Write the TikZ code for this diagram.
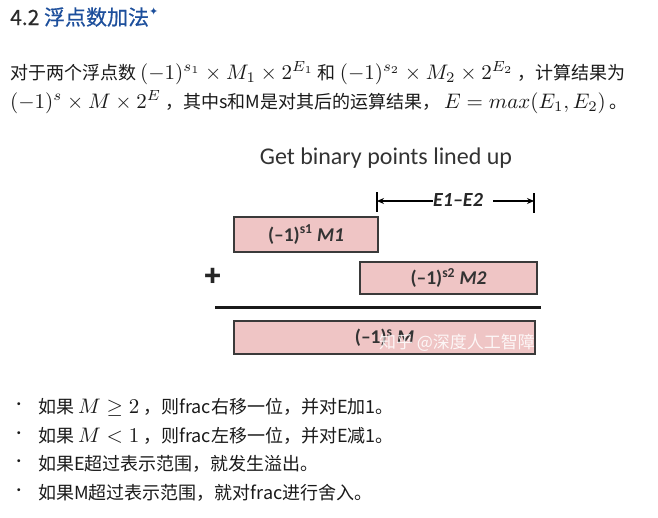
\RequirePackage{fix-cm}
\documentclass[tikz,border=0pt]{standalone}
\usepackage[no-math]{fontspec}
\usepackage{graphicx}
\setmainfont{Noto Sans CJK SC}
\newfontfamily\figfont{Carlito}
\newfontfamily\symfont{DejaVu Sans}
\usetikzlibrary{arrows.meta}
\definecolor{bodytext}{HTML}{1A1A1A}
\definecolor{titleblue}{HTML}{1D4F9C}
\definecolor{titlegray}{HTML}{2B2B2B}
\definecolor{pinkfill}{HTML}{EFC5C5}
\definecolor{boxline}{HTML}{3A3A3A}
\newcommand\mth[1]{\scalebox{2.1}{\fontsize{10pt}{12pt}\selectfont$#1$}}
\tikzset{
  bodyline/.style={anchor=base west, inner sep=0pt, text=bodytext, font=\fontsize{18pt}{21pt}\selectfont},
  bulletdot/.style={inner sep=0pt, text=bodytext, font=\fontsize{14pt}{16pt}\selectfont},
  pinkbox/.style={draw=boxline, fill=pinkfill, line width=1.3pt, inner sep=0pt,
    font=\figfont\bfseries\fontsize{19.5pt}{22pt}\selectfont, text=black!80},
  dimarrow/.style={line width=1.1pt, -{Stealth[length=7pt,width=6pt]}},
  dimbar/.style={line width=1.6pt},
}
\begin{document}
\begin{tikzpicture}[x=1pt,y=-1pt]
\useasboundingbox[fill=white] (0,0) rectangle (658,517);

% title
\node[anchor=base west, inner sep=0pt, font=\fontsize{21pt}{24pt}\selectfont\addfontfeatures{FakeBold=0.6}] (title) at (10,25)
  {{\color{titlegray}4.2} {\color{titleblue}浮点数加法}{\color{titleblue}\raisebox{0.45em}{\symfont\fontsize{11pt}{12pt}\selectfont ✦}}};

% paragraph
\node[bodyline] (p1) at (10,79)
  {对于两个浮点数 \mth{(-1)^{s_1}\times M_1\times 2^{E_1}} 和 \mth{(-1)^{s_2}\times M_2\times 2^{E_2}} ，计算结果为};
\node[bodyline] (p2) at (10,108)
  {\mth{(-1)^s\times M\times 2^E} ，其中s和M是对其后的运算结果， \mth{E=max(E_1,E_2)} 。};

% figure
\node[inner sep=0pt, font=\figfont\fontsize{24pt}{28pt}\selectfont, text=black!80] (head) at (386,158) {Get binary points lined up};

\coordinate (lbt) at (377,192);
\coordinate (lbb) at (377,212);
\coordinate (rbt) at (534,193);
\coordinate (rbb) at (534,213);
\coordinate (lb) at (377,201);
\coordinate (rb) at (534,201);
\coordinate (rstart) at (493,201);
\draw[dimbar] (lbt) -- (lbb);
\draw[dimbar] (rbt) -- (rbb);
\node[inner sep=0pt, font=\figfont\bfseries\itshape\fontsize{20pt}{22pt}\selectfont, text=black!85, anchor=base] (e12) at (458,206) {E1–E2};
\draw[dimarrow] (e12.west |- lb) -- (lb);
\draw[dimarrow] (rstart) -- (rb);

\node[pinkbox, minimum width=144pt, minimum height=35pt] (m1) at (306,234.5)
  {(–1)\textsuperscript{s1} \textit{M1}};
\node[inner sep=0pt, font=\bfseries\fontsize{28pt}{30pt}\selectfont, text=black!85] (plus) at (213,277) {+};
\node[pinkbox, minimum width=177pt, minimum height=32pt] (m2) at (448.5,278)
  {(–1)\textsuperscript{s2} \textit{M2}};
\coordinate (rulel) at (215,307);
\coordinate (ruler) at (541,307);
\draw[line width=3pt, black!90] (rulel) -- (ruler);
\node[pinkbox, minimum width=301pt, minimum height=33pt] (m) at (384.5,337.5)
  {(–1)\textsuperscript{s} \textit{M}};
\node[inner sep=0pt, font=\fontsize{17pt}{19pt}\selectfont, text=white, opacity=0.85] (wm) at (457,343) {知乎 @深度人工智障};

% bullets
\node[bulletdot] (d1) at (19,406) {•};
\node[bulletdot] (d2) at (19,435) {•};
\node[bulletdot] (d3) at (19,463) {•};
\node[bulletdot] (d4) at (19,492) {•};
\node[bodyline] (b1) at (38,413) {如果 \mth{M\geq 2} ，则frac右移一位，并对E加1。};
\node[bodyline] (b2) at (38,442) {如果 \mth{M<1} ，则frac左移一位，并对E减1。};
\node[bodyline] (b3) at (38,470) {如果E超过表示范围，就发生溢出。};
\node[bodyline] (b4) at (38,499) {如果M超过表示范围，就对frac进行舍入。};
\end{tikzpicture}
\end{document}
